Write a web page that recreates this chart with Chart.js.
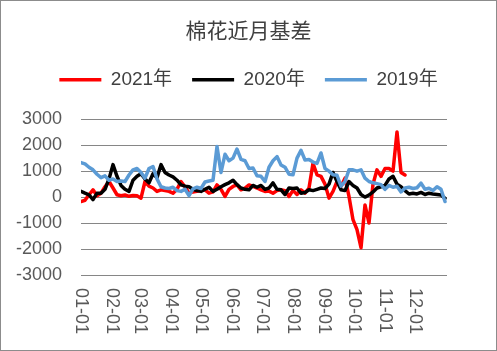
<!DOCTYPE html>
<html>
<head>
<meta charset="utf-8">
<script src="https://cdn.jsdelivr.net/npm/chart.js@4.4.0/dist/chart.umd.min.js"></script>
<style>
  body { margin: 0; background: #fff; }
  #wrap { width: 497px; height: 351px; border: 1px solid #8c8c8c; box-sizing: border-box; }
  canvas { display: block; }
</style>
</head>
<body>
<div id="wrap"><canvas id="myChart" width="495" height="349"></canvas></div>
<script>
// jour de l'année, un point tous les 4 jours
const days = [];
for (let d = 0; d <= 364; d += 4) days.push(d);

const monthStarts = [0, 31, 59, 90, 120, 151, 181, 212, 243, 273, 304, 334];
const monthLabels = ['01-01', '02-01', '03-01', '04-01', '05-01', '06-01', '07-01', '08-01', '09-01', '10-01', '11-01', '12-01'];
const yTicks = [-3000, -2000, -1000, 0, 1000, 2000, 3000];

const seriesNames = ['2021年', '2020年', '2019年'];

const basis2021 = [
  -170, -120, 90, 280, 50, 150, 400, 600, 350, 90, 50, 80, 30, 60, 50, -40,
  600, 420, 350, 220, 280, 250, 220, 150, 300, 600, 400, 150, 200, 220, 250, 280,
  150, 200, 470, 300, 25, 300, 410, 470, 280, 350, 470, 410, 350, 280, 220, 230,
  150, 250, 280, 250, 25, 260, 100, 280, 150, 350, 1300, 860, 800, 500, -40, 220,
  600, 410, 730, 25, -870, -1250, -1950, -300, -1000, 500, 1050, 800, 1100, 1100, 1000, 2510,
  950, 850, null, null, null, null, null, null, null, null, null, null
];

const basis2020 = [
  220, 150, 90, -100, 150, 150, 300, 700, 1250, 800, 450, 300, 220, 650, 800, 900,
  700, 550, 900, 750, 1250, 950, 850, 780, 650, 470, 420, 400, 300, 250, 220, 300,
  380, 220, 300, 400, 480, 550, 650, 480, 350, 300, 280, 450, 380, 450, 300, 350,
  550, 300, 280, 100, 350, 330, 350, 150, 180, 280, 250, 300, 350, 330, 500, 950,
  600, 280, 250, 600, 450, 350, 100, 0, 80, 200, 350, 400, 450, 700, 800, 500,
  400, 250, 120, 150, 120, 180, 100, 150, 120, 100, 80, -50
];

const basis2019 = [
  1330, 1280, 1150, 1050, 880, 750, 820, 650, 700, 600, 620, 600, 850, 1050, 1100, 950,
  730, 1100, 1180, 700, 400, 350, 330, 380, 250, 220, 300, 60, 320, 380, 330, 580,
  620, 650, 1950, 950, 1650, 1400, 1500, 1850, 1450, 1400, 1100, 1120, 820, 800, 600, 1150,
  1400, 1560, 1240, 1150, 880, 860, 1500, 1800, 1430, 1450, 1350, 1300, 1700, 1100, 1000, 860,
  840, 420, 600, 1050, 1050, 1000, 1050, 730, 600, 550, 520, 480, 300, 450, 380, 420,
  200, 350, 380, 330, 360, 540, 300, 340, 250, 400, 300, -170
];

const colors = ['#ff0000', '#000000', '#5b9bd5'];

function toPoints(values) {
  return days.map(function(d, i) { return { x: d, y: values[i] }; });
}

// rajouter de l'espace sous la légende
const legendGap = {
  id: 'legendGap',
  beforeInit(chart) {
    const origFit = chart.legend.fit;
    chart.legend.fit = function fit() {
      origFit.bind(chart.legend)();
      this.height += 20;
    };
  }
};

// étiquettes de l'axe X tournées de 90° (lecture de haut en bas)
const xLabels = {
  id: 'xLabels',
  afterDraw(chart) {
    const ctx = chart.ctx;
    const xScale = chart.scales.x;
    ctx.save();
    ctx.font = '18px "Liberation Sans", Arial, sans-serif';
    ctx.fillStyle = '#595959';
    ctx.textAlign = 'left';
    ctx.textBaseline = 'middle';
    monthStarts.forEach(function(v, i) {
      const px = xScale.getPixelForValue(v);
      ctx.save();
      ctx.translate(px, chart.chartArea.bottom + 13);
      ctx.rotate(Math.PI / 2);
      ctx.fillText(monthLabels[i], 0, 0);
      ctx.restore();
    });
    ctx.restore();
  }
};

const datasets = [basis2021, basis2020, basis2019].map(function(values, i) {
  return {
    label: seriesNames[i],
    data: toPoints(values),
    borderColor: colors[i],
    backgroundColor: colors[i],
    borderWidth: 3.5,
    borderCapStyle: 'round',
    borderJoinStyle: 'round',
    pointRadius: 0,
    pointStyle: 'line',
    tension: 0,
    spanGaps: false,
    order: 3 - i
  };
});

const ctx = document.getElementById('myChart').getContext('2d');
new Chart(ctx, {
  type: 'line',
  data: { datasets: datasets },
  plugins: [legendGap, xLabels],
  options: {
    responsive: false,
    animation: false,
    devicePixelRatio: 1,
    layout: { padding: 0 },
    plugins: {
      title: {
        display: true,
        text: '棉花近月基差',
        color: '#404040',
        font: { family: '"Noto Sans CJK SC", sans-serif', size: 21, weight: 'normal' },
        padding: { top: 16, bottom: 8 }
      },
      legend: {
        display: true,
        labels: {
          usePointStyle: true,
          pointStyleWidth: 42,
          boxHeight: 19,
          padding: 20,
          color: '#404040',
          font: { family: '"Liberation Sans", "Noto Sans CJK SC", sans-serif', size: 19 },
          sort: function(a, b) { return a.datasetIndex - b.datasetIndex; }
        }
      },
      tooltip: { enabled: false }
    },
    scales: {
      x: {
        type: 'linear',
        min: 0,
        max: 366,
        grid: { display: false },
        border: { display: false },
        ticks: { display: false },
        afterBuildTicks: function(scale) {
          scale.ticks = monthStarts.map(function(v) { return { value: v }; });
        },
        afterFit: function(scale) { scale.height = 75; }
      },
      y: {
        min: -3000,
        max: 3000,
        grid: { color: '#868686', lineWidth: 1, drawTicks: false },
        border: { display: false },
        ticks: {
          padding: 19,
          color: '#595959',
          font: { family: '"Liberation Sans", Arial, sans-serif', size: 18 },
          callback: function(value) { return String(value); }
        },
        afterBuildTicks: function(scale) {
          scale.ticks = yTicks.map(function(v) { return { value: v }; });
        },
        afterFit: function(scale) { scale.width = 80; }
      },
      // axe vide à droite pour garder la marge sans décaler le titre
      yRight: {
        position: 'right',
        min: -3000,
        max: 3000,
        grid: { display: false },
        border: { display: false },
        ticks: { display: false },
        afterFit: function(scale) { scale.width = 49; }
      }
    }
  }
});
</script>
</body>
</html>
